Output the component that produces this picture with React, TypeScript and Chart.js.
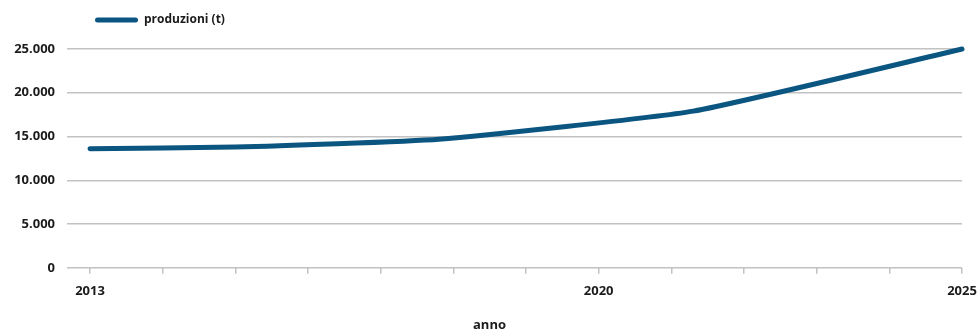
import React, { useEffect, useRef } from "react";
import { Chart, registerables } from "chart.js";

Chart.register(...registerables);

const years = [2013, 2015, 2017.8, 2021.3, 2025];
const production = [13600, 13800, 14700, 17900, 25000];
const tickYears = [2013, 2014, 2015, 2016, 2017, 2018, 2019, 2020, 2021, 2022, 2023, 2024, 2025];
const labelYears = [2013, 2020, 2025];
const yTicks = [0, 5000, 10000, 15000, 20000, 25000];
const seriesLabel = "produzioni (t)";
const xTitle = "anno";

const LINE_COLOR = "#0b5581";
const GRID_COLOR = "#c2c2c2";
const TEXT_COLOR = "#1b1b1b";
const FONT = "'Open Sans', Lato, sans-serif";

const fmt = (v: number) => v.toString().replace(/\B(?=(\d{3})+(?!\d))/g, ".");

export default function App() {
  const ref = useRef<HTMLCanvasElement | null>(null);

  useEffect(() => {
    document.body.style.margin = "0";
    if (!ref.current) return;
    const legendShift = {
      id: "legendShift",
      afterLayout(chart: any) {
        if (chart.legend) {
          chart.legend.left = 85;
          chart.legend.top = chart.legend.top - 13;
        }
      },
    };
    const chart = new Chart(ref.current, {
      type: "line",
      data: {
        datasets: [
          {
            label: seriesLabel,
            data: years.map((x, i) => ({ x, y: production[i] })),
            borderColor: LINE_COLOR,
            backgroundColor: LINE_COLOR,
            borderWidth: 5,
            borderCapStyle: "round",
            borderJoinStyle: "round",
            pointRadius: 0,
            tension: 0.15,
            fill: false,
            clip: false as any,
          },
        ],
      },
      options: {
        animation: false,
        responsive: false,
        layout: { padding: { top: 17, right: 0, bottom: 0, left: 0 } },
        plugins: {
          legend: {
            display: true,
            position: "top",
            align: "start",
            labels: {
              boxWidth: 43,
              boxHeight: 5,
              padding: 10,
              color: TEXT_COLOR,
              font: { family: FONT, size: 12, weight: "bold" },
              useBorderRadius: true,
              borderRadius: 2.5,
              generateLabels: (chart: any) =>
                Chart.defaults.plugins.legend.labels.generateLabels(chart).map((l: any) => ({
                  ...l,
                  lineWidth: 0,
                  fillStyle: LINE_COLOR,
                })),
            },
          },
          title: {
            display: true,
            position: "bottom",
            text: xTitle,
            color: TEXT_COLOR,
            font: { family: FONT, size: 13, weight: "bold" },
            padding: { top: 8, bottom: 0 },
          },
          tooltip: { enabled: false },
        },
        scales: {
          x: {
            type: "linear",
            min: 2012.683,
            max: 2025,
            afterBuildTicks: (scale: any) => {
              scale.ticks = tickYears.map((v) => ({ value: v }));
            },
            afterFit: (scale: any) => {
              scale.paddingRight = 17;
              scale.paddingLeft = 0;
            },
            grid: {
              drawOnChartArea: false,
              drawTicks: true,
              tickLength: 6,
              color: GRID_COLOR,
              lineWidth: 1.5,
            },
            border: { display: false },
            ticks: {
              autoSkip: false,
              maxRotation: 0,
              padding: 10,
              color: TEXT_COLOR,
              font: { family: FONT, size: 13, weight: "bold" },
              callback: (v: any) => (labelYears.includes(Number(v)) ? String(v) : ""),
            },
          },
          y: {
            min: 0,
            max: 25000,
            afterFit: (scale: any) => {
              scale.width = 67;
            },
            afterBuildTicks: (scale: any) => {
              scale.ticks = yTicks.map((v) => ({ value: v }));
            },
            grid: {
              drawTicks: false,
              color: GRID_COLOR,
              lineWidth: 1.5,
            },
            border: { display: false },
            ticks: {
              padding: 12,
              color: TEXT_COLOR,
              font: { family: FONT, size: 13, weight: "bold" },
              callback: (v: any) => fmt(Number(v)),
            },
          },
        },
      },
      plugins: [legendShift],
    } as any);
    return () => chart.destroy();
  }, []);

  return (
    <div style={{ width: 979, height: 333 }}>
      <canvas ref={ref} width={979} height={333} style={{ display: "block" }} />
    </div>
  );
}
